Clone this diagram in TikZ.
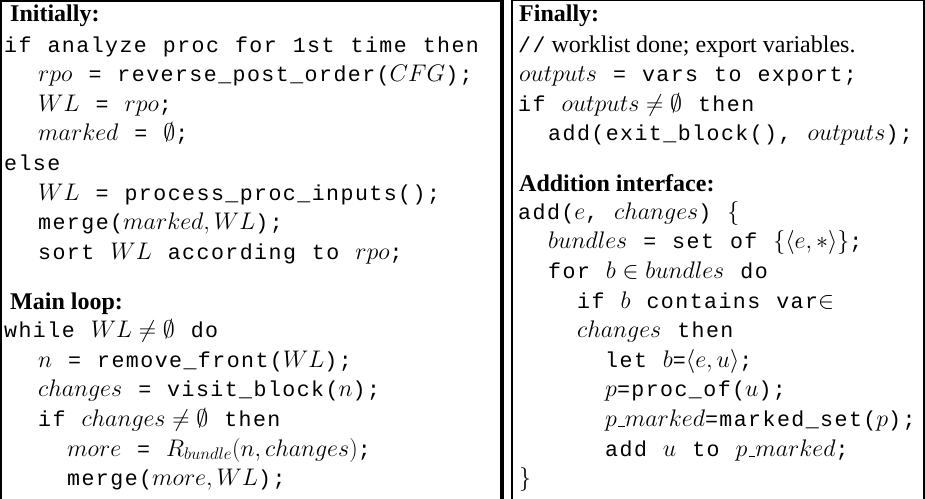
\RequirePackage{fix-cm}
\documentclass[tikz,border=0pt]{standalone}
\usepackage{fontspec}
\setmainfont{Liberation Serif}
\setmonofont{Liberation Mono}[Scale=0.9, LetterSpace=6.67, WordSpace=1.111]
\newcommand\mus{\kern.06em\vbox{\hrule width.3em}}
\begin{document}
\begin{tikzpicture}[x=1pt,y=-1pt,
  code/.style={anchor=base west, inner sep=0pt, font=\fontsize{24}{29}\selectfont\ttfamily},
  head/.style={anchor=base west, inner sep=0pt, font=\fontsize{24}{29}\selectfont\rmfamily\bfseries},
  frame/.style={draw=black, line cap=rect}]
\useasboundingbox (0,0) rectangle (925,498);
% left panel frame
\draw[frame, line width=2pt] (1,498) -- (1,1) -- (502,1);
\draw[frame, line width=4pt] (502,1) -- (502,498);
% right panel frame
\draw[frame, line width=1.4pt] (511.5,0.7) -- (924,0.7);
\draw[frame, line width=2pt] (511.5,0.7) -- (511.5,498);
\draw[frame, line width=2pt] (924,0.7) -- (924,498);
% left panel text
\node[head] (l1) at (10,21) {Initially:};
\node[code] (l2) at (4,52) {if analyze proc for 1st time then};
\node[code] (l3) at (38,81.6) {$rpo$ = reverse\_post\_order($CFG$);};
\node[code] (l4) at (38,111.2) {$WL$ = $rpo$;};
\node[code] (l5) at (38,140.8) {$marked$ = $\emptyset$;};
\node[code] (l6) at (4,170.4) {else};
\node[code] (l7) at (38,200) {$WL$ = process\_proc\_inputs();};
\node[code] (l8) at (38,229.6) {merge($marked, WL$);};
\node[code] (l9) at (38,259.2) {sort $WL$ according to $rpo$;};
\node[head] (l10) at (10,309.6) {Main loop:};
\node[code] (l11) at (4,337.6) {while $WL\neq\emptyset$ do};
\node[code] (l12) at (38,367.2) {$n$ = remove\_front($WL$);};
\node[code] (l13) at (38,396.8) {$changes$ = visit\_block($n$);};
\node[code] (l14) at (38,426.4) {if $changes\neq\emptyset$ then};
\node[code] (l15) at (67,456) {$more$ = $R_{bundle}(n,changes)$;};
\node[code] (l16) at (67,485.6) {merge($more, WL$);};
% right panel text
\node[head] (r1) at (519,21) {Finally:};
\node[code] (r2) at (518,52) {//{\rmfamily\ worklist done; export variables.}};
\node[code] (r3) at (519,81.6) {$outputs$ = vars to export;};
\node[code] (r4) at (518,111.2) {if $outputs\neq\emptyset$ then};
\node[code] (r5) at (548,140.8) {add(exit\_block(), $outputs$);};
\node[head] (r6) at (519,191.2) {Addition interface:};
\node[code] (r7) at (518,219.2) {add($e$, $changes$) $\{$};
\node[code] (r8) at (548,248.8) {$bundles$ = set of $\{\langle e,*\rangle\}$;};
\node[code] (r9) at (548,278.4) {for $b\in bundles$ do};
\node[code] (r10) at (577,308) {if $b$ contains var$\in$};
\node[code] (r11) at (577,337.6) {$changes$ then};
\node[code] (r12) at (605,367.2) {let $b$=$\langle e,u\rangle$;};
\node[code] (r13) at (605,396.8) {$p$=proc\_of($u$);};
\node[code] (r14) at (605,426.4) {$p\mus marked$=marked\_set($p$);};
\node[code] (r15) at (605,456) {add $u$ to $p\mus marked$;};
\node[code] (r16) at (519,485.6) {$\}$};
\end{tikzpicture}
\end{document}
